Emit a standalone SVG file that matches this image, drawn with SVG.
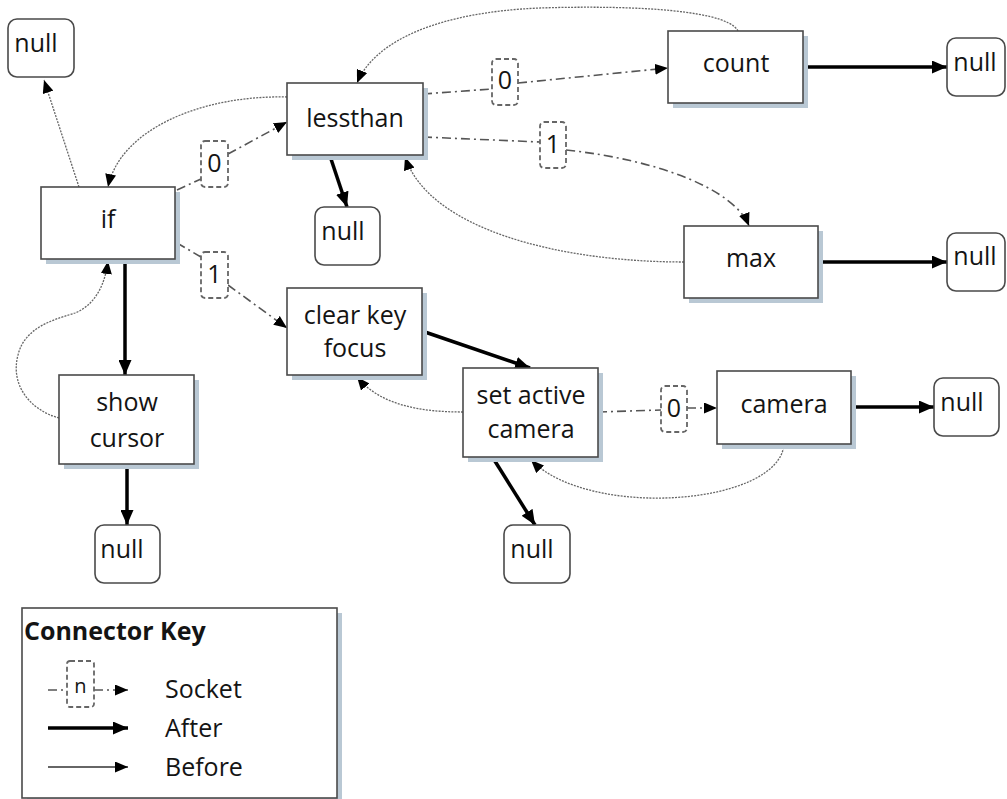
<svg xmlns="http://www.w3.org/2000/svg" width="1007" height="799" viewBox="0 0 1007 799">
<style>
text{font-family:"Open Sans","Noto Sans",sans-serif;font-size:25px;fill:#141414;text-anchor:middle}
.box{fill:#fff;stroke:#4a4a4a;stroke-width:1.6}
.shadow{fill:#b9c8d4}
.nul{fill:#fff;stroke:#4a4a4a;stroke-width:1.6}
.after{fill:none;stroke:#000;stroke-width:3.5;marker-end:url(#ah)}
.sock{fill:none;stroke:#555;stroke-width:1.6;stroke-dasharray:9 4 2 4}
.sockA{fill:none;stroke:#555;stroke-width:1.6;stroke-dasharray:9 4 2 4;marker-end:url(#as)}
.before{fill:none;stroke:#666;stroke-width:1.3;stroke-dasharray:2 1.2;marker-end:url(#as)}
.lbl{fill:#fff;stroke:#666;stroke-width:1.8;stroke-dasharray:5 3}
.key{text-anchor:start}
</style>
<defs>
<marker id="ah" markerUnits="userSpaceOnUse" markerWidth="15" markerHeight="13" refX="15" refY="6.5" orient="auto"><path d="M0,0 L15,6.5 L0,13 z" fill="#000"/></marker>
<marker id="as" markerUnits="userSpaceOnUse" markerWidth="13" markerHeight="11" refX="13" refY="5.5" orient="auto"><path d="M0,0 L13,5.5 L0,11 z" fill="#000"/></marker>
</defs>
<rect width="1007" height="799" fill="#fff"/>

<g id="connectors">
<path class="after" d="M803,67 L947,67"/>
<path class="after" d="M818,262 L947,262"/>
<path class="after" d="M851,407 L934,407"/>
<path class="after" d="M125,259 L125,375"/>
<path class="after" d="M127,464 L127,525"/>
<path class="after" d="M330,156 L347,207"/>
<path class="after" d="M422,331 L530,368"/>
<path class="after" d="M493,458 L535,525"/>
<path class="sock" d="M177,190 L201,179"/>
<path class="sockA" d="M228,154 L287,122"/>
<path class="sock" d="M177,243 L201,257"/>
<path class="sockA" d="M228,285 L287,328"/>
<path class="sock" d="M423,94 L492,89"/>
<path class="sockA" d="M518,83 L668,68"/>
<path class="sock" d="M423,137 L540,142"/>
<path class="sockA" d="M566,150 C660,160 735,190 749,226"/>
<path class="sock" d="M598,412 L661,410"/>
<path class="sockA" d="M687,408 L717,408"/>
<path class="before" d="M79,187 L44,80"/>
<path class="before" d="M287,97 C200,95 120,130 108,187"/>
<path class="before" d="M738,31 C725,6 600,6 540,8 C440,12 375,40 357,83"/>
<path class="before" d="M684,262 C560,262 430,230 405,157"/>
<path class="before" d="M59,418 C30,410 10,385 18,355 C25,325 60,318 75,313 C95,305 105,285 108,261"/>
<path class="before" d="M463,412 C420,412 380,405 357,377"/>
<path class="before" d="M784,444 C780,505 590,520 531,460"/>
<rect class="lbl" x="201" y="141" width="27" height="46" rx="4"/>
<text x="214.5" y="172">0</text>
<rect class="lbl" x="201" y="252" width="27" height="46" rx="4"/>
<text x="214.5" y="283">1</text>
<rect class="lbl" x="492" y="59" width="26" height="46" rx="4"/>
<text x="505" y="89">0</text>
<rect class="lbl" x="540" y="122" width="26" height="46" rx="4"/>
<text x="553" y="153">1</text>
<rect class="lbl" x="661" y="386" width="26" height="46" rx="4"/>
<text x="674" y="417">0</text>
</g>

<g id="null1"><rect class="nul" x="8" y="19" width="66" height="58" rx="9"/><text x="36" y="52">null</text></g>
<g id="lessthan"><rect class="shadow" x="292" y="88" width="136" height="72"/><rect class="box" x="287" y="83" width="136" height="72"/><text x="355" y="127">lessthan</text></g>
<g id="if"><rect class="shadow" x="46" y="192" width="134" height="72"/><rect class="box" x="41" y="187" width="134" height="72"/><text x="108" y="228">if</text></g>
<g id="null2"><rect class="nul" x="315" y="207" width="65" height="58" rx="9"/><text x="343" y="240">null</text></g>
<g id="count"><rect class="shadow" x="673" y="36" width="135" height="72"/><rect class="box" x="668" y="31" width="135" height="72"/><text x="736" y="72">count</text></g>
<g id="null3"><rect class="nul" x="947" y="38" width="58" height="58" rx="9"/><text x="975" y="71">null</text></g>
<g id="max"><rect class="shadow" x="689" y="231" width="134" height="72"/><rect class="box" x="684" y="226" width="134" height="72"/><text x="751" y="267">max</text></g>
<g id="null4"><rect class="nul" x="947" y="233" width="58" height="58" rx="9"/><text x="975" y="265">null</text></g>
<g id="clearkeyfocus"><rect class="shadow" x="292" y="293" width="135" height="87"/><rect class="box" x="287" y="288" width="135" height="87"/><text x="355" y="324">clear key</text><text x="355" y="357">focus</text></g>
<g id="showcursor"><rect class="shadow" x="64" y="380" width="135" height="89"/><rect class="box" x="59" y="375" width="135" height="89"/><text x="127" y="411">show</text><text x="127" y="447">cursor</text></g>
<g id="null5"><rect class="nul" x="95" y="525" width="65" height="58" rx="9"/><text x="122" y="558">null</text></g>
<g id="setactivecamera"><rect class="shadow" x="468" y="373" width="135" height="89"/><rect class="box" x="463" y="368" width="135" height="89"/><text x="531" y="404">set active</text><text x="531" y="438">camera</text></g>
<g id="camera"><rect class="shadow" x="722" y="376" width="134" height="73"/><rect class="box" x="717" y="371" width="134" height="73"/><text x="784" y="413">camera</text></g>
<g id="null6"><rect class="nul" x="934" y="378" width="65" height="58" rx="9"/><text x="962" y="411">null</text></g>
<g id="null7"><rect class="nul" x="504" y="525" width="66" height="58" rx="9"/><text x="532" y="558">null</text></g>

<g id="legend">
<rect class="shadow" x="27" y="613" width="315" height="190"/>
<rect class="box" x="22" y="608" width="315" height="190"/>
<text class="key" x="24" y="640" style="font-weight:bold;font-size:25px">Connector Key</text>
<path class="sock" d="M48,690 L67,690"/>
<path class="sockA" d="M94,690 L128,690"/>
<rect class="lbl" x="67" y="661" width="27" height="46" rx="3"/>
<text x="80.5" y="693" style="font-size:20px">n</text>
<path class="after" d="M48,728 L128,728"/>
<path d="M48,767 L128,767" fill="none" stroke="#333" stroke-width="1.3" marker-end="url(#as)"/>
<text class="key" x="165" y="698">Socket</text>
<text class="key" x="165" y="737">After</text>
<text class="key" x="165" y="776">Before</text>
</g>
</svg>
